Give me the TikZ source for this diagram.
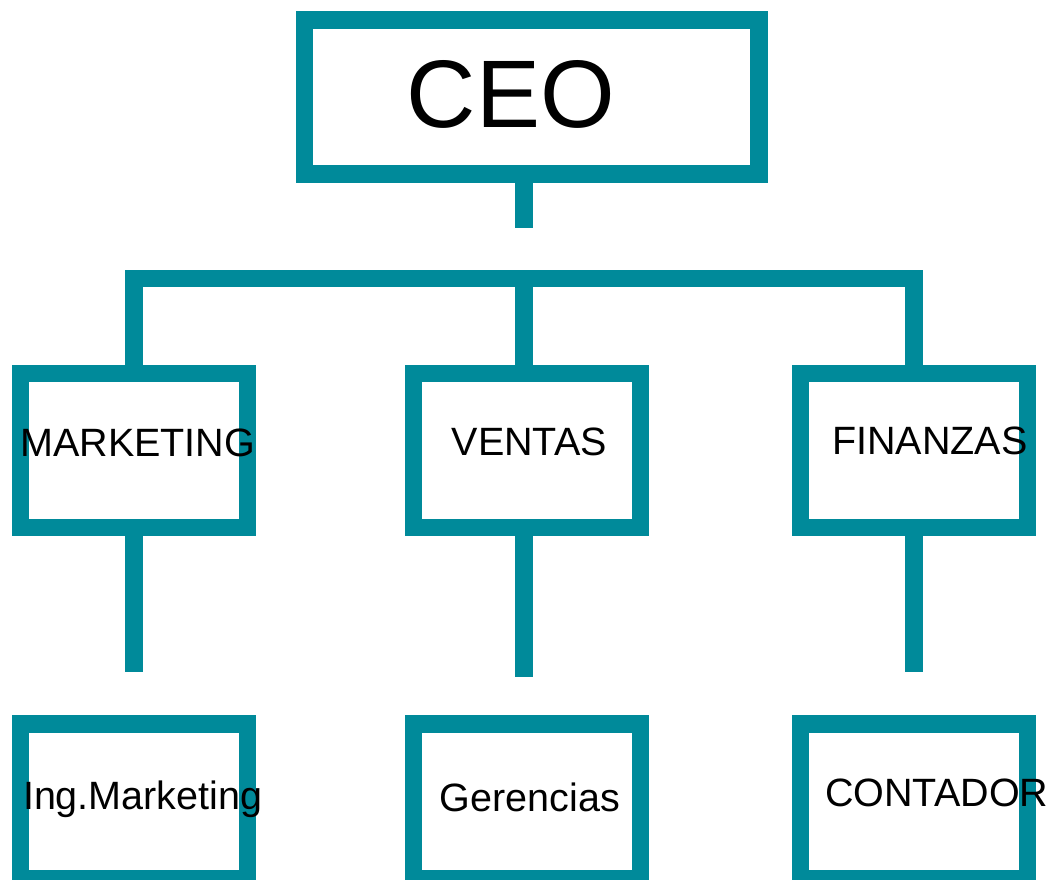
\documentclass[tikz,border=0pt]{standalone}
\usepackage{fontspec}
\setmainfont{Liberation Sans}
\definecolor{teal1}{RGB}{0,138,154}
\begin{document}
\begin{tikzpicture}[x=1pt,y=-1pt,
  box/.style={draw=teal1,line width=17.5pt,rectangle,inner sep=0pt,outer sep=0pt},
  conn/.style={draw=teal1,line width=17.5pt,line cap=butt,line join=miter},
  lbl/.style={anchor=base,inner sep=0pt,text=black,font=\fontsize{39.5}{48}\selectfont},
  big/.style={anchor=base,inner sep=0pt,text=black,font=\fontsize{96}{116}\selectfont}]
\useasboundingbox (0,0) rectangle (1056,879);
% boxes
\node[box,minimum width=454.7pt,minimum height=154pt] (ceo) at (531.7,97) {};
\node[box,minimum width=227pt,minimum height=154.4pt] (mk) at (134,450.5) {};
\node[box,minimum width=227pt,minimum height=154.4pt] (ve) at (527.1,450.5) {};
\node[box,minimum width=227pt,minimum height=154.4pt] (fi) at (914.2,450.5) {};
\node[box,minimum width=227pt,minimum height=154.8pt] (ing) at (133.9,801.4) {};
\node[box,minimum width=227pt,minimum height=154.8pt] (ge) at (527,801.4) {};
\node[box,minimum width=227pt,minimum height=154.8pt] (co) at (913.9,801.4) {};
% free ends of connectors
\coordinate (ceoE) at (524,227.7);
\coordinate (barM) at (524,278.7);
\coordinate (mkE) at (134,671.7);
\coordinate (veE) at (524,676.7);
\coordinate (fiE) at (914.2,671.7);
% connectors
\path[conn] (ceoE |- ceo.south) -- (ceoE);
\path[conn] (mk.north) |- (barM) -| (fi.north);
\path[conn] (barM) -- (barM |- ve.north);
\path[conn] (mk.south) -- (mkE);
\path[conn] (veE |- ve.south) -- (veE);
\path[conn] (fi.south) -- (fiE);
% labels
\node[big] (tceo) at (511,127) {CEO};
\node[lbl] (tmk) at (137.8,456.7) {MARKETING};
\node[lbl] (tve) at (529.2,455.3) {VENTAS};
\node[lbl] (tfi) at (929.7,454) {FINANZAS};
\node[lbl] (ting) at (142.7,809) {Ing.Marketing};
\node[lbl] (tge) at (530,811) {Gerencias};
\node[lbl] (tco) at (936.7,806.7) {CONTADOR};
\end{tikzpicture}
\end{document}
